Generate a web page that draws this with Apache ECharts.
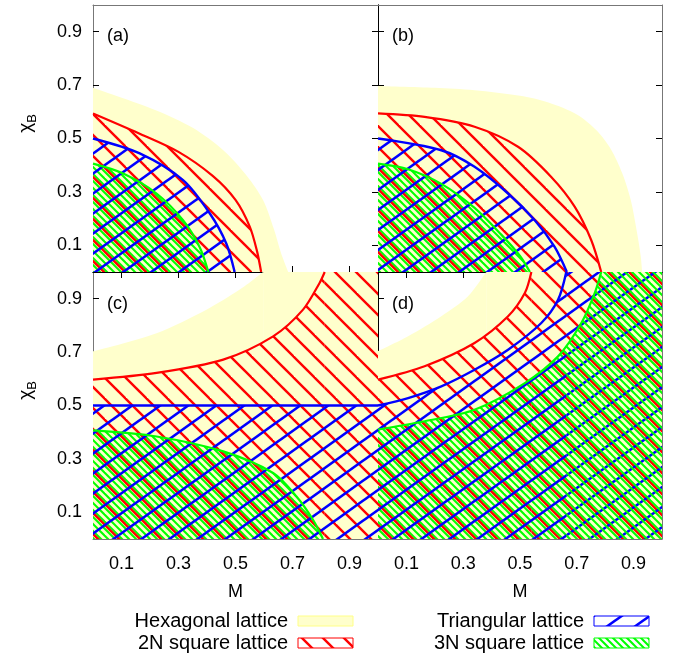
<!DOCTYPE html>
<html><head><meta charset="utf-8">
<script src="https://cdn.jsdelivr.net/npm/echarts@6/dist/echarts.min.js"></script>
<style>html,body{margin:0;padding:0;background:#fff}#c{width:673px;height:660px}</style>
</head><body><div id="c"></div>
<script>
// ---------- data ----------
const tickValues = [0.1, 0.3, 0.5, 0.7, 0.9];
const tickLabels = ['0.1', '0.3', '0.5', '0.7', '0.9'];
const panelLabels = ['(a)', '(b)', '(c)', '(d)'];
const legendNames = ['Hexagonal lattice', '2N square lattice', 'Triangular lattice', '3N square lattice'];
const AX_MIN = 0, AX_MAX = 1;

// boundary points [M, chi_B]; each region lies below its curve
// (a curve that reaches the top edge keeps the region filled to the right of it)
// panel (a)
const hexA = [[0,0.69],[0.22,0.606],[0.35,0.54],[0.457,0.456],[0.54,0.36],[0.597,0.269],[0.635,0.16],[0.66,0.07],[0.685,0]];
const sq2A = [[0,0.594],[0.16,0.52],[0.3,0.45],[0.42,0.36],[0.5,0.27],[0.55,0.17],[0.575,0.08],[0.59,0]];
const triA = [[0,0.5],[0.164,0.444],[0.316,0.344],[0.41,0.219],[0.468,0.106],[0.497,0]];
const sq3A = [[0,0.406],[0.106,0.369],[0.223,0.294],[0.316,0.194],[0.374,0.094],[0.405,0]];
// panel (b)
const hexB = [[0,0.697],[0.2,0.69],[0.34,0.681],[0.5,0.66],[0.6,0.635],[0.7,0.59],[0.77,0.53],[0.82,0.46],[0.86,0.37],[0.89,0.27],[0.91,0.16],[0.925,0.06],[0.93,0]];
const sq2B = [[0,0.594],[0.164,0.581],[0.34,0.544],[0.493,0.469],[0.61,0.356],[0.693,0.244],[0.751,0.119],[0.786,0]];
const triB = [[0,0.5],[0.223,0.456],[0.34,0.394],[0.458,0.294],[0.552,0.194],[0.622,0.094],[0.665,0]];
const sq3B = [[0,0.406],[0.106,0.385],[0.223,0.33],[0.34,0.24],[0.434,0.14],[0.5,0.06],[0.535,0]];
// panel (c)
const hexC = [[0,0.703],[0.223,0.771],[0.398,0.859],[0.515,0.934],[0.597,1]];
const sq2C = [[0,0.597],[0.223,0.622],[0.457,0.672],[0.632,0.759],[0.737,0.859],[0.795,0.959],[0.813,1]];
const triC = [[0,0.5],[1,0.5]];
const sq3C = [[0,0.407],[0.223,0.384],[0.457,0.328],[0.632,0.247],[0.714,0.159],[0.772,0.072],[0.807,0]];
// panel (d)
const hexD = [[0,0.703],[0.106,0.759],[0.223,0.834],[0.317,0.909],[0.381,1]];
const sq2D = [[0,0.597],[0.164,0.647],[0.34,0.734],[0.458,0.834],[0.517,0.921],[0.54,1]];
const triD = [[0,0.5],[0.106,0.528],[0.223,0.572],[0.34,0.634],[0.458,0.709],[0.575,0.809],[0.634,0.896],[0.663,1]];
const sq3D = [[0,0.41],[0.164,0.441],[0.34,0.484],[0.517,0.584],[0.634,0.684],[0.716,0.809],[0.763,0.921],[0.786,1]];

// ---------- styling ----------
const FONT = 'Liberation Sans';
const YELLOW = '#ffffcc', RED = '#ff0000', BLUE = '#0000ff', GREEN = '#00ff00';

function hatchTile(w, h, dir, color, lw, offsets) {
  const cv = document.createElement('canvas');
  cv.width = w; cv.height = h;
  const g = cv.getContext('2d');
  g.strokeStyle = color; g.lineWidth = lw;
  offsets.forEach(o => {
    for (let k = -2; k <= 2; k++) {
      const x0 = o + k * w;
      g.beginPath();
      if (dir > 0) { g.moveTo(x0 - w, -h); g.lineTo(x0 + 2 * w, 2 * h); }
      else { g.moveTo(x0 + w, -h); g.lineTo(x0 - 2 * w, 2 * h); }
      g.stroke();
    }
  });
  return cv;
}
const patRed = { image: hatchTile(21, 21, 1, RED, 2.4, [0]), repeat: 'repeat' };
const patGreen = { image: hatchTile(21, 21, 1, GREEN, 2, [3, 10, 17]), repeat: 'repeat' };
const patBlue = { image: hatchTile(28, 20, -1, BLUE, 2.6, [0]), repeat: 'repeat' };

const panels = [
  [hexA, sq2A, triA, sq3A],
  [hexB, sq2B, triB, sq3B],
  [hexC, sq2C, triC, sq3C],
  [hexD, sq2D, triD, sq3D]
];
const fills = [YELLOW, patRed, patBlue, patGreen];
const edgeColors = [null, RED, BLUE, GREEN];
const zOrder = [1, 3, 4, 2];

const grids = [
  { left: 93, top: 5, width: 285, height: 267 },
  { left: 378, top: 5, width: 284, height: 267 },
  { left: 93, top: 272, width: 285, height: 267 },
  { left: 378, top: 272, width: 284, height: 267 }
].map(g => Object.assign({ outerBoundsMode: 'none', containLabel: false }, g));

const OUTER = '#777', INNER = '#000';
const fmt = v => { const i = tickValues.findIndex(t => Math.abs(t - v) < 1e-9); return i >= 0 ? tickLabels[i] : ''; };

const xAxes = [], yAxes = [];
for (let i = 0; i < 4; i++) {
  ['bottom', 'top'].forEach(pos => {
    const bottom = pos === 'bottom';
    const showLabel = bottom && i >= 2;
    const isOuter = bottom ? i >= 2 : i < 2;
    xAxes.push({
      type: 'value', gridIndex: i, position: pos, min: AX_MIN, max: AX_MAX,
      axisLine: { show: true, onZero: false, lineStyle: { color: isOuter ? OUTER : INNER, width: 1 } },
      axisTick: { show: bottom || i >= 2, inside: true, length: 6, customValues: tickValues, lineStyle: { color: '#000' } },
      axisLabel: { show: showLabel, customValues: tickValues, formatter: fmt, margin: 16, fontSize: 18, color: '#000', fontFamily: FONT },
      splitLine: { show: false },
      name: showLabel ? 'M' : '', nameLocation: 'middle', nameGap: 44,
      nameTextStyle: { fontSize: 18, color: '#000', fontFamily: FONT }
    });
  });
  ['left', 'right'].forEach(pos => {
    const left = pos === 'left';
    const showLabel = left && (i === 0 || i === 2);
    const isOuter = left ? (i === 0 || i === 2) : (i === 1 || i === 3);
    yAxes.push({
      type: 'value', gridIndex: i, position: pos, min: AX_MIN, max: AX_MAX,
      axisLine: { show: true, onZero: false, lineStyle: { color: isOuter ? OUTER : INNER, width: 1 } },
      axisTick: { show: true, inside: true, length: 6, customValues: tickValues, lineStyle: { color: '#000' } },
      axisLabel: { show: showLabel, customValues: tickValues, formatter: fmt, margin: 11, fontSize: 18, color: '#000', fontFamily: FONT },
      splitLine: { show: false },
      name: showLabel ? '{c|χ}{s|B}' : '', nameLocation: 'middle', nameGap: 54, nameRotate: 90,
      nameTextStyle: {
        color: '#000', fontFamily: FONT, padding: [0, 0, 0, 30],
        rich: {
          c: { fontSize: 19, fontFamily: FONT, color: '#000', lineHeight: 26, verticalAlign: 'middle' },
          s: { fontSize: 13, fontFamily: FONT, color: '#000', lineHeight: 14, verticalAlign: 'bottom' }
        }
      }
    });
  });
}

const series = [];
panels.forEach((sets, i) => {
  sets.forEach((data, k) => {
    const last = data[data.length - 1];
    const s = {
      type: 'line', xAxisIndex: 2 * i, yAxisIndex: 2 * i, data: data,
      smooth: 0.3, symbol: 'none', showSymbol: false, silent: true,
      lineStyle: { width: 0, opacity: 0 },
      areaStyle: { color: fills[k], opacity: 1 },
      z: zOrder[k], animation: false, clip: true
    };
    if (last[1] >= AX_MAX && last[0] < AX_MAX) {
      // region continues right of where the boundary meets the top edge
      s.markArea = {
        silent: true, animation: false,
        itemStyle: { color: fills[k], opacity: 1, borderWidth: 0 },
        data: [[{ coord: [last[0], AX_MIN] }, { coord: [AX_MAX, AX_MAX] }]]
      };
    }
    series.push(s);
  });
  sets.forEach((data, k) => {
    if (!edgeColors[k]) return;
    series.push({
      type: 'line', xAxisIndex: 2 * i, yAxisIndex: 2 * i, data: data,
      smooth: 0.3, symbol: 'none', showSymbol: false, silent: true,
      lineStyle: { width: k === 2 ? 2.4 : 2.2, color: edgeColors[k] },
      z: 6 + (k === 2 ? 1 : 0), animation: false, clip: true
    });
  });
});

// panel tags and legend
const graphic = [];
const tagPos = [[107, 27], [392, 27], [107, 295], [392, 295]];
panelLabels.forEach((t, i) => graphic.push({
  type: 'text', left: tagPos[i][0], top: tagPos[i][1], z: 100,
  style: { text: t, font: '18px "Liberation Sans"', fill: '#000' }
}));
const legSwatch = [
  { fill: YELLOW, stroke: '#ffff88' }, { fill: patRed, stroke: RED },
  { fill: patBlue, stroke: BLUE }, { fill: patGreen, stroke: GREEN }
];
const legPos = [[288, 621], [288, 643], [584, 621], [584, 643]];
legendNames.forEach((name, i) => {
  const [tx, ty] = legPos[i];
  graphic.push({
    type: 'text', x: tx, y: ty, z: 100,
    style: { text: name, font: '20px "Liberation Sans"', fill: '#000', align: 'right', verticalAlign: 'middle' }
  });
  graphic.push({
    type: 'rect', z: 100,
    shape: { x: tx + 10, y: ty - 5, width: 55, height: 10 },
    style: { fill: legSwatch[i].fill, stroke: legSwatch[i].stroke, lineWidth: 1 }
  });
});

const chart = echarts.init(document.getElementById('c'), null, { renderer: 'canvas' });
chart.setOption({
  animation: false,
  backgroundColor: '#fff',
  grid: grids, xAxis: xAxes, yAxis: yAxes, series: series, graphic: graphic
});
</script>
</body></html>
